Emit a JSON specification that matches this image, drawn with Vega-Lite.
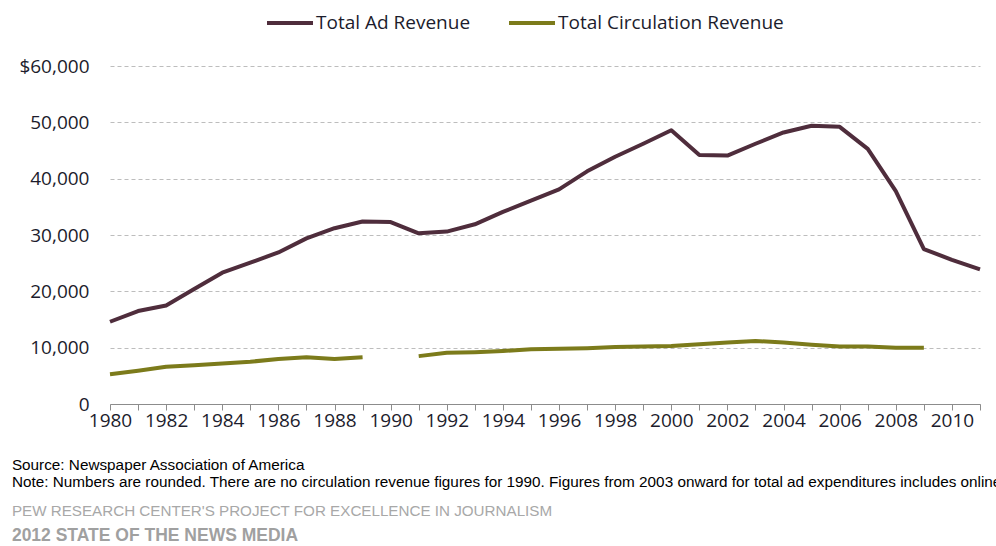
{
  "$schema": "https://vega.github.io/schema/vega-lite/v6.json",
  "padding": {"left": 11, "top": -2, "right": 0, "bottom": 0},
  "background": "white",
  "config": {
    "view": {"stroke": null},
    "font": "Open Sans",
    "concat": {"spacing": 0}
  },
  "title": {
    "text": "2012 STATE OF THE NEWS MEDIA",
    "orient": "bottom",
    "anchor": "start",
    "font": "Liberation Sans",
    "fontSize": 17.5,
    "fontWeight": "bold",
    "color": "#a0a0a0",
    "offset": 7
  },
  "data": {
    "values": [
      {"year": 1980, "series": "Total Ad Revenue", "value": 14600},
      {"year": 1981, "series": "Total Ad Revenue", "value": 16500},
      {"year": 1982, "series": "Total Ad Revenue", "value": 17500},
      {"year": 1983, "series": "Total Ad Revenue", "value": 20400},
      {"year": 1984, "series": "Total Ad Revenue", "value": 23300},
      {"year": 1985, "series": "Total Ad Revenue", "value": 25100},
      {"year": 1986, "series": "Total Ad Revenue", "value": 26900},
      {"year": 1987, "series": "Total Ad Revenue", "value": 29400},
      {"year": 1988, "series": "Total Ad Revenue", "value": 31200},
      {"year": 1989, "series": "Total Ad Revenue", "value": 32400},
      {"year": 1990, "series": "Total Ad Revenue", "value": 32300},
      {"year": 1991, "series": "Total Ad Revenue", "value": 30300},
      {"year": 1992, "series": "Total Ad Revenue", "value": 30600},
      {"year": 1993, "series": "Total Ad Revenue", "value": 31900},
      {"year": 1994, "series": "Total Ad Revenue", "value": 34100},
      {"year": 1995, "series": "Total Ad Revenue", "value": 36100},
      {"year": 1996, "series": "Total Ad Revenue", "value": 38100},
      {"year": 1997, "series": "Total Ad Revenue", "value": 41300},
      {"year": 1998, "series": "Total Ad Revenue", "value": 43900},
      {"year": 1999, "series": "Total Ad Revenue", "value": 46200},
      {"year": 2000, "series": "Total Ad Revenue", "value": 48600},
      {"year": 2001, "series": "Total Ad Revenue", "value": 44200},
      {"year": 2002, "series": "Total Ad Revenue", "value": 44100},
      {"year": 2003, "series": "Total Ad Revenue", "value": 46200},
      {"year": 2004, "series": "Total Ad Revenue", "value": 48200},
      {"year": 2005, "series": "Total Ad Revenue", "value": 49400},
      {"year": 2006, "series": "Total Ad Revenue", "value": 49200},
      {"year": 2007, "series": "Total Ad Revenue", "value": 45300},
      {"year": 2008, "series": "Total Ad Revenue", "value": 37800},
      {"year": 2009, "series": "Total Ad Revenue", "value": 27500},
      {"year": 2010, "series": "Total Ad Revenue", "value": 25600},
      {"year": 2011, "series": "Total Ad Revenue", "value": 23900},
      {"year": 1980, "series": "Total Circulation Revenue", "value": 5300},
      {"year": 1981, "series": "Total Circulation Revenue", "value": 5900},
      {"year": 1982, "series": "Total Circulation Revenue", "value": 6600},
      {"year": 1983, "series": "Total Circulation Revenue", "value": 6900},
      {"year": 1984, "series": "Total Circulation Revenue", "value": 7200},
      {"year": 1985, "series": "Total Circulation Revenue", "value": 7500},
      {"year": 1986, "series": "Total Circulation Revenue", "value": 8000},
      {"year": 1987, "series": "Total Circulation Revenue", "value": 8300},
      {"year": 1988, "series": "Total Circulation Revenue", "value": 8000},
      {"year": 1989, "series": "Total Circulation Revenue", "value": 8300},
      {"year": 1990, "series": "Total Circulation Revenue", "value": null},
      {"year": 1991, "series": "Total Circulation Revenue", "value": 8500},
      {"year": 1992, "series": "Total Circulation Revenue", "value": 9100},
      {"year": 1993, "series": "Total Circulation Revenue", "value": 9200},
      {"year": 1994, "series": "Total Circulation Revenue", "value": 9400},
      {"year": 1995, "series": "Total Circulation Revenue", "value": 9700},
      {"year": 1996, "series": "Total Circulation Revenue", "value": 9800},
      {"year": 1997, "series": "Total Circulation Revenue", "value": 9900},
      {"year": 1998, "series": "Total Circulation Revenue", "value": 10100},
      {"year": 1999, "series": "Total Circulation Revenue", "value": 10200},
      {"year": 2000, "series": "Total Circulation Revenue", "value": 10300},
      {"year": 2001, "series": "Total Circulation Revenue", "value": 10600},
      {"year": 2002, "series": "Total Circulation Revenue", "value": 10900},
      {"year": 2003, "series": "Total Circulation Revenue", "value": 11200},
      {"year": 2004, "series": "Total Circulation Revenue", "value": 10900},
      {"year": 2005, "series": "Total Circulation Revenue", "value": 10500},
      {"year": 2006, "series": "Total Circulation Revenue", "value": 10200},
      {"year": 2007, "series": "Total Circulation Revenue", "value": 10200},
      {"year": 2008, "series": "Total Circulation Revenue", "value": 10000},
      {"year": 2009, "series": "Total Circulation Revenue", "value": 10000}
    ]
  },
  "vconcat": [
    {
      "width": 870,
      "height": 338,
      "title": {
        "text": [
          "Source: Newspaper Association of America",
          "Note: Numbers are rounded. There are no circulation revenue figures for 1990. Figures from 2003 onward for total ad expenditures includes online."
        ],
        "subtitle": "PEW RESEARCH CENTER'S PROJECT FOR EXCELLENCE IN JOURNALISM",
        "orient": "bottom",
        "anchor": "start",
        "dx": -7,
        "font": "Liberation Sans",
        "fontSize": 15.3,
        "fontWeight": "normal",
        "color": "#000000",
        "lineHeight": 17,
        "offset": 28,
        "subtitleFont": "Liberation Sans",
        "subtitleFontSize": 15.2,
        "subtitleColor": "#a8a8a8",
        "subtitlePadding": 14
      },
      "mark": {"type": "line", "strokeWidth": 4, "strokeJoin": "round"},
      "encoding": {
        "x": {
          "field": "year",
          "type": "quantitative",
          "scale": {"domain": [1980, 2011], "nice": false, "zero": false},
          "axis": {
            "title": null,
            "values": [1980,1981,1982,1983,1984,1985,1986,1987,1988,1989,1990,1991,1992,1993,1994,1995,1996,1997,1998,1999,2000,2001,2002,2003,2004,2005,2006,2007,2008,2009,2010,2011],
            "format": "d",
            "labelExpr": "datum.value % 2 === 0 ? datum.label : ''",
            "labelOverlap": false,
            "labelFlush": false,
            "grid": false,
            "domainColor": "#8c8c8c",
            "tickColor": "#8c8c8c",
            "tickSize": 6,
            "labelFontSize": 19,
            "labelColor": "#1c1c2c",
            "labelPadding": 1
          }
        },
        "y": {
          "field": "value",
          "type": "quantitative",
          "scale": {"domain": [0, 60000], "nice": false},
          "axis": {
            "title": null,
            "values": [0, 10000, 20000, 30000, 40000, 50000, 60000],
            "labelExpr": "datum.value === 60000 ? '$60,000' : format(datum.value, ',')",
            "domain": false,
            "ticks": false,
            "gridDash": [4, 3],
            "gridColor": "#bdbdbd",
            "labelFontSize": 19,
            "labelColor": "#1c1c2c",
            "labelPadding": 21
          }
        },
        "color": {
          "field": "series",
          "type": "nominal",
          "scale": {
            "domain": ["Total Ad Revenue", "Total Circulation Revenue"],
            "range": ["#4f2d3c", "#7c7b1b"]
          },
          "legend": {
            "title": null,
            "orient": "none",
            "direction": "horizontal",
            "legendX": 155,
            "legendY": -68,
            "symbolType": "stroke",
            "symbolSize": 2116,
            "symbolStrokeWidth": 4,
            "labelFontSize": 19,
            "labelLimit": 0,
            "labelColor": "#1c1c2c",
            "labelOffset": 1,
            "columnPadding": 30
          }
        }
      }
    }
  ]
}
